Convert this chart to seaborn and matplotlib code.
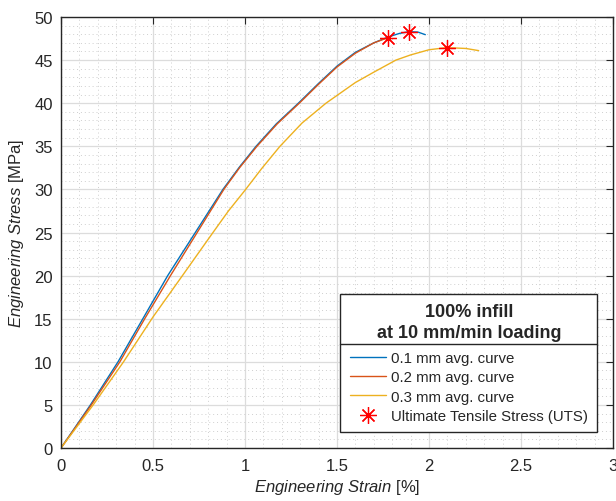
import numpy as np
import pandas as pd
import matplotlib
matplotlib.use("Agg")
import matplotlib.pyplot as plt
from matplotlib.lines import Line2D
from matplotlib.ticker import MultipleLocator
import seaborn as sns

# ---------------- Data ----------------
strain_01 = [0, 0.16, 0.31, 0.445, 0.58, 0.73, 0.88, 0.97, 1.06, 1.17, 1.29, 1.40, 1.5,
             1.6, 1.7, 1.78, 1.84, 1.89, 1.94, 1.98]
stress_01 = [0, 5, 10, 15, 20, 25, 30, 32.6, 35, 37.6, 40, 42.3, 44.3,
             45.9, 47.0, 47.7, 48.1, 48.3, 48.25, 47.95]

strain_02 = [0, 0.165, 0.32, 0.455, 0.595, 0.74, 0.885, 0.97, 1.065, 1.175, 1.295, 1.40, 1.5,
             1.6, 1.7, 1.777]
stress_02 = [0, 5, 10, 15, 20, 25, 30, 32.5, 35, 37.6, 40, 42.2, 44.2,
             45.8, 47.0, 47.6]

strain_03 = [0, 0.175, 0.34, 0.5, 0.66, 0.826, 0.91, 1.0, 1.09, 1.19, 1.31, 1.44, 1.6,
             1.7, 1.82, 1.9, 2.0, 2.096, 2.2, 2.27]
stress_03 = [0, 5, 10, 15.2, 20, 25, 27.5, 29.9, 32.4, 35, 37.7, 40, 42.4,
             43.6, 45, 45.6, 46.2, 46.45, 46.35, 46.1]

uts_strain = [1.89, 1.777, 2.096]
uts_stress = [48.3, 47.6, 46.45]

labels = ["0.1 mm avg. curve", "0.2 mm avg. curve", "0.3 mm avg. curve"]
colors = ["#0072BD", "#D95319", "#EDB120"]
xticks = [0, 0.5, 1, 1.5, 2, 2.5, 3]
xtick_labels = ["0", "0.5", "1", "1.5", "2", "2.5", "3"]
yticks = list(range(0, 51, 5))

df = pd.concat([
    pd.DataFrame({"strain": strain_01, "stress": stress_01, "curve": labels[0]}),
    pd.DataFrame({"strain": strain_02, "stress": stress_02, "curve": labels[1]}),
    pd.DataFrame({"strain": strain_03, "stress": stress_03, "curve": labels[2]}),
])
uts = pd.DataFrame({"strain": uts_strain, "stress": uts_stress})

# ---------------- Style ----------------
sns.set_theme(style="white")
plt.rcParams["font.family"] = ["Liberation Sans", "DejaVu Sans"]
plt.rcParams["mathtext.fontset"] = "custom"
plt.rcParams["mathtext.it"] = "Liberation Sans:italic"
plt.rcParams["mathtext.rm"] = "Liberation Sans"

fig = plt.figure(figsize=(6.16, 5.02), dpi=100)
ax = fig.add_axes([61 / 616, 53 / 502, 552 / 616, 431 / 502])

sns.lineplot(data=df, x="strain", y="stress", hue="curve", palette=colors,
             sort=False, estimator=None, linewidth=1.0, ax=ax, legend=False)
star = (8, 2, 0)
ax.plot(uts["strain"], uts["stress"], linestyle="none", marker=star,
        markersize=12, markeredgewidth=0.9, color="red", zorder=5)

ax.set_xlim(0, 3)
ax.set_ylim(0, 50)
ax.set_xticks(xticks)
ax.set_xticklabels(xtick_labels)
ax.set_yticks(yticks)
ax.set_yticklabels([str(v) for v in yticks])
ax.xaxis.set_minor_locator(MultipleLocator(0.1))
ax.yaxis.set_minor_locator(MultipleLocator(1))

ax.grid(which="major", color="#dcdcdc", linewidth=0.9, linestyle="-")
ax.grid(which="minor", color="#cfcfcf", linewidth=0.7, linestyle=(0, (1, 3)))
ax.set_axisbelow(True)

for s in ax.spines.values():
    s.set_color("#262626")
    s.set_linewidth(1.0)
ax.tick_params(which="major", direction="in", length=5, width=0.8,
               top=True, right=True, labelsize=12, colors="#262626")
ax.tick_params(axis="x", which="major", pad=7)
ax.tick_params(axis="y", which="major", pad=6)
ax.tick_params(which="minor", length=0)

ax.set_xlabel(r"$\it{Engineering\ Strain}$ [%]", fontsize=12, color="#262626", labelpad=3)
ax.set_ylabel(r"$\it{Engineering\ Stress}$ [MPa]", fontsize=12, color="#262626", labelpad=6)

# ---------------- Legend ----------------
handles = [Line2D([], [], color=c, linewidth=1.0) for c in colors]
handles.append(Line2D([], [], linestyle="none", marker=star, markersize=12,
                      markeredgewidth=0.9, color="red"))
leg = ax.legend(handles, labels + ["Ultimate Tensile Stress (UTS)"],
                title="100% infill\nat 10 mm/min loading", loc="lower right",
                fontsize=10.8, title_fontproperties={"weight": "bold", "size": 13},
                handlelength=2.45, handletextpad=0.3, labelspacing=0.36,
                borderaxespad=1.05, borderpad=0.62, fancybox=False,
                framealpha=1, edgecolor="#262626")
leg.get_frame().set_linewidth(1.0)
leg.get_title().set_multialignment("center")
leg.get_title().set_linespacing(1.3)
leg._legend_box.sep = 7

# separator line between title and entries
fig.canvas.draw()
r = fig.canvas.get_renderer()
fb = leg.get_frame().get_window_extent(r)
tb = leg.get_title().get_window_extent(r)
ysep = tb.y0 - 3
fig.add_artist(Line2D([fb.x0 / 616, fb.x1 / 616], [ysep / 502, ysep / 502],
                      color="#262626", linewidth=1.0, transform=fig.transFigure))

fig.savefig("out.png", dpi=100)
